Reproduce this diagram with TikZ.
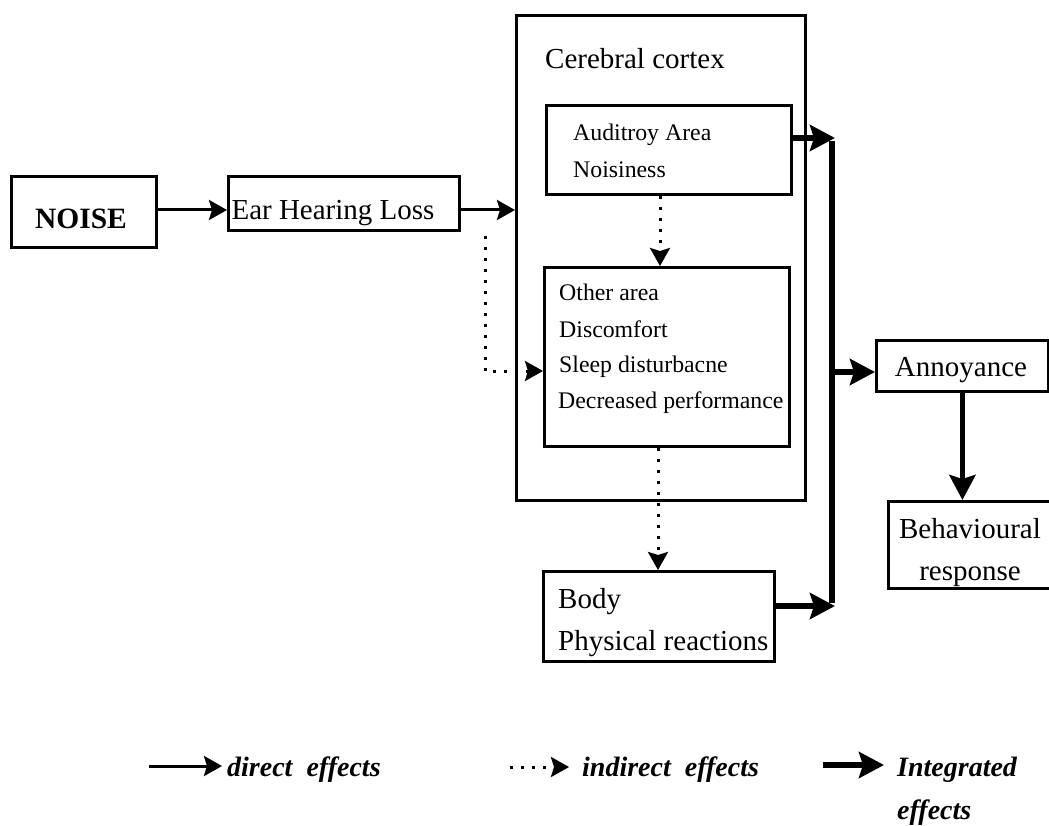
\documentclass[tikz,border=0pt]{standalone}
\usepackage{fontspec}
\setmainfont{Liberation Serif}
\usetikzlibrary{arrows.meta}
\begin{document}
\begin{tikzpicture}[x=1pt,y=-1pt,
  box/.style={draw, line width=2.8pt, inner sep=0pt, anchor=north west},
  big/.style={inner sep=0pt, font=\fontsize{29}{32}\selectfont},
  small/.style={inner sep=0pt, anchor=base west, font=\fontsize{23.8}{28}\selectfont},
  leg/.style={inner sep=0pt, anchor=base west, align=left, font=\fontsize{28}{43}\selectfont\bfseries\itshape},
  direct/.style={line width=3pt, -{Stealth[length=18pt,width=20pt,inset=3pt]}},
  indirect/.style={line width=3pt, dash pattern=on 3pt off 8pt, -{Stealth[length=18pt,width=20pt,inset=3pt]}},
  integ/.style={line width=5.5pt, -{Stealth[length=25pt,width=26pt,inset=4pt]}},
  integline/.style={line width=5.5pt}
]
\useasboundingbox (0,0) rectangle (1049,826);
% boxes
\node[box, minimum width=145pt, minimum height=71pt] (noise) at (10,175) {};
\node[box, minimum width=231pt, minimum height=54pt] (ehl) at (227,175) {};
\node[box, minimum width=289pt, minimum height=485pt] (cc) at (515,14) {};
\node[box, minimum width=245pt, minimum height=89pt] (aud) at (545,104) {};
\node[box, minimum width=245pt, minimum height=179pt] (other) at (543,266) {};
\node[box, minimum width=231pt, minimum height=90pt] (body) at (542,570) {};
\node[box, minimum width=172pt, minimum height=51pt] (ann) at (875,339) {};
\node[box, minimum width=162pt, minimum height=87pt] (beh) at (887,500) {};
% texts
\node[big, anchor=base, font=\fontsize{29.5}{32}\selectfont\bfseries] (tnoise) at (81,229) {NOISE};
\node[big, anchor=base] (tehl) at (333,220) {Ear Hearing Loss};
\node[big, anchor=base west] (tcc) at (545,69) {Cerebral cortex};
\node[small] (taud1) at (573,141) {Auditroy Area};
\node[small] (taud2) at (573,178) {Noisiness};
\node[small] (toth1) at (559,301) {Other area};
\node[small] (toth2) at (559,337) {Discomfort};
\node[small] (toth3) at (559,372) {Sleep disturbacne};
\node[small] (toth4) at (558,408) {Decreased performance};
\node[big, anchor=base west] (tbody1) at (558,608) {Body};
\node[big, anchor=base west] (tbody2) at (558,650) {Physical reactions};
\node[big, anchor=base] (tann) at (961,376) {Annoyance};
\node[big, anchor=base] (tbeh1) at (970,538) {Behavioural};
\node[big, anchor=base] (tbeh2) at (970,580) {response};
% coordinates
\coordinate (jtop) at (832,138);
\coordinate (jmid) at (832,372);
\coordinate (jbot) at (832,606);
\coordinate (dcorner) at (485,371);
\coordinate (dx1) at (660,0);
\coordinate (dx2) at (658,0);
% direct arrows
\draw[direct] (noise.east |- 0,210) -- (ehl.west |- 0,210);
\draw[direct] (ehl.east |- 0,210) -- (cc.west |- 0,210);
% indirect arrows
\draw[indirect] (aud.south -| dx1) -- (other.north -| dx1);
\draw[indirect] (other.south -| dx2) -- (body.north -| dx2);
\draw[indirect] ([yshift=-4pt]ehl.south -| dcorner) -- (dcorner) -- (other.west |- dcorner);
% integrated
\draw[integline] ([yshift=-3pt]jtop) -- ([yshift=3pt]jbot);
\draw[integ] (aud.east |- jtop) -- ([xshift=3pt]jtop);
\draw[integ] (body.east |- jbot) -- ([xshift=3pt]jbot);
\draw[integ] (jmid) -- (ann.west |- jmid);
\draw[integ] (ann.south) -- (ann.south |- beh.north);
% legend
\coordinate (l1a) at (149,766); \coordinate (l1b) at (222,766);
\coordinate (l2a) at (510,767); \coordinate (l2b) at (569,767);
\coordinate (l3a) at (823,765); \coordinate (l3b) at (884,765);
\draw[direct] (l1a) -- (l1b);
\draw[indirect] (l2a) -- (l2b);
\draw[integ] (l3a) -- (l3b);
\node[leg] (leg1) at (227,776) {direct\ \ effects};
\node[leg] (leg2) at (582,776) {indirect\ \ effects};
\node[leg] (leg3) at (897,776) {Integrated};
\node[leg] (leg4) at (897,819) {effects};
\end{tikzpicture}
\end{document}
